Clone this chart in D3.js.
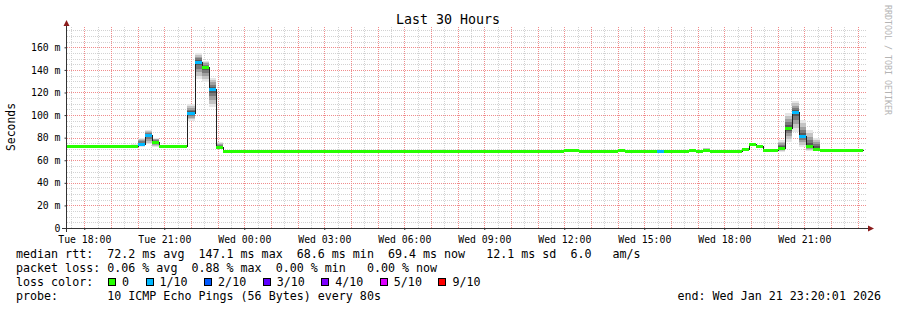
<!DOCTYPE html>
<html>
<head>
<meta charset="utf-8">
<script src="https://cdn.jsdelivr.net/npm/d3@7"></script>
<style>
  body { margin: 0; background: #fff; }
  svg { display: block; font-family: "DejaVu Sans Mono", monospace; }
  text { white-space: pre; }
</style>
</head>
<body>
<svg width="897" height="310"></svg>
<script>
// one entry per 16 min step (12 pings x 80s), it holds until the next start
const stepStart = ["Tue 17:20", "Tue 19:44", "Tue 20:00", "Tue 20:16", "Tue 20:32", "Tue 20:48",
  "Tue 21:52", "Tue 22:08", "Tue 22:24", "Tue 22:40", "Tue 22:56", "Tue 23:12",
  "Wed 07:12", "Wed 07:28", "Wed 12:00", "Wed 12:32", "Wed 14:00", "Wed 14:16",
  "Wed 15:28", "Wed 15:44", "Wed 16:40", "Wed 16:56", "Wed 17:12", "Wed 17:28",
  "Wed 18:40", "Wed 18:56", "Wed 19:12", "Wed 19:28", "Wed 20:00", "Wed 20:16",
  "Wed 20:32", "Wed 20:48", "Wed 21:04", "Wed 21:20", "Wed 21:36", "Wed 22:40"];
const medianMs = [72.3, 72.3, 74.5, 82.5, 76, 72.3,
  101.5, 147.1, 142.2, 123, 71.5, 68.6,
  68.6, 68.6, 69.2, 68.6, 69.1, 68.6,
  68.6, 68.6, 69.3, 68.6, 68.8, 68.6,
  70.2, 74.6, 72.8, 68.7, 71, 88.8,
  102.4, 81.3, 72.5, 70.4, 68.7, 69.3];
const lowMs = [72.3, 72, 72, 74, 72, 72.3,
  95, 132, 129, 107, 70.5, 68.6,
  68.3, 68.6, 68.5, 68.6, 68.5, 68.6,
  68.6, 68.6, 68.6, 68.6, 68.5, 68.6,
  69.5, 73, 72, 68.5, 67.5, 76.5,
  85, 72, 68.3, 68.3, 68.7, 69];
const highMs = [72.3, 74, 80, 87, 80, 72.3,
  110, 155, 148, 133, 76, 68.6,
  69.6, 68.6, 70, 68.6, 70, 68.6,
  68.8, 68.6, 70, 68.6, 71, 68.6,
  71, 75.5, 73.5, 69, 78, 101.5,
  112.5, 95.5, 86.6, 79.3, 68.7, 69.6];
const lossOf10 = [0, 0, 1, 1, 0, 0,
  1, 1, 0, 1, 0, 0,
  0, 0, 0, 0, 0, 0,
  1, 0, 0, 0, 0, 0,
  0, 0, 0, 0, 0, 0,
  1, 1, 0, 0, 0, 0];
const dataEnd = "Wed 23:12";

const yTicks = [0, 20, 40, 60, 80, 100, 120, 140, 160];
const lossLevels = [0, 1, 2, 3, 4, 5, 9];
const lossLabels = ["0", "1/10", "2/10", "3/10", "4/10", "5/10", "9/10"];
const lossColors = ["#26ff00", "#00b8ff", "#0059ff", "#5e00ff", "#7e00ff", "#dd00ff", "#ff0000"];
// smoke shades, outer ping pair first
const smokeGrays = [230, 196, 160, 122, 88];

const legendLines = [
  "median rtt:  72.2 ms avg  147.1 ms max  68.6 ms min  69.4 ms now   12.1 ms sd  6.0   am/s",
  "packet loss: 0.06 % avg  0.88 % max  0.00 % min   0.00 % now",
  "loss color:",
  "probe:       10 ICMP Echo Pings (56 Bytes) every 80s"
];

function parseT(s) {
  const [d, hm] = s.split(" ");
  const [h, m] = hm.split(":").map(Number);
  return new Date(2026, 0, d === "Tue" ? 20 : 21, h, m);
}

const svg = d3.select("svg");
const plotL = 66.5, plotR = 866.5, plotT = 27, plotB = 228;

const x = d3.scaleTime()
  .domain([new Date(2026, 0, 20, 17, 20), new Date(2026, 0, 21, 23, 20)])
  .range([plotL, plotR]);
const y = d3.scaleLinear().domain([0, 178]).range([plotB, plotT]);
const px = v => Math.round(v) + 0.5;

svg.append("rect").attr("width", 897).attr("height", 310).attr("fill", "#fff");

// grid, dotted: grey minor, red major
const grid = svg.append("g").attr("stroke-dasharray", "1,1").attr("stroke-width", 1);
const minorY = d3.range(5, 178, 5).filter(v => v % 20 !== 0);
grid.selectAll(".gy").data(minorY).enter().append("line")
  .attr("x1", plotL + 0.5).attr("x2", plotR)
  .attr("y1", d => px(y(d))).attr("y2", d => px(y(d)))
  .attr("stroke", "#d2d2d2");
const halfHours = d3.timeMinute.every(30).range(...x.domain()).filter(d => d.getMinutes() === 30);
grid.selectAll(".gx").data(halfHours).enter().append("line")
  .attr("x1", d => px(x(d))).attr("x2", d => px(x(d)))
  .attr("y1", plotT).attr("y2", plotB)
  .attr("stroke", "#d2d2d2");
grid.selectAll(".my").data(yTicks.slice(1)).enter().append("line")
  .attr("x1", plotL + 0.5).attr("x2", plotR)
  .attr("y1", d => px(y(d))).attr("y2", d => px(y(d)))
  .attr("stroke", "#f08c8c");
grid.selectAll(".mx").data(d3.timeHour.range(...x.domain())).enter().append("line")
  .attr("x1", d => px(x(d))).attr("x2", d => px(x(d)))
  .attr("y1", plotT).attr("y2", plotB)
  .attr("stroke", "#f08c8c");

// steps
const steps = stepStart.map((s, i) => ({
  t0: parseT(s),
  t1: parseT(stepStart[i + 1] || dataEnd),
  med: medianMs[i], lo: lowMs[i], hi: highMs[i], loss: lossOf10[i]
}));

// smoke, lightest band outside, darkest next to the median
const smoke = svg.append("g").attr("shape-rendering", "crispEdges");
steps.filter(s => s.hi > s.lo).forEach(s => {
  smokeGrays.forEach((g, k) => {
    const f = 1 - k / smokeGrays.length;
    const bLo = s.med - (s.med - s.lo) * f;
    const bHi = s.med + (s.hi - s.med) * f;
    smoke.append("rect")
      .attr("x", Math.round(x(s.t0))).attr("width", Math.round(x(s.t1)) - Math.round(x(s.t0)))
      .attr("y", Math.round(y(bHi))).attr("height", Math.max(1, Math.round(y(bLo)) - Math.round(y(bHi))))
      .attr("fill", d3.rgb(g, g, g));
  });
});

// median line
const linePts = steps.map(s => [s.t0, s.med]).concat([[steps[steps.length - 1].t1, steps[steps.length - 1].med]]);
svg.append("path")
  .attr("d", d3.line().x(d => px(x(d[0]))).y(d => px(y(d[1]))).curve(d3.curveStepAfter)(linePts))
  .attr("fill", "none").attr("stroke", "#202020").attr("stroke-width", 1)
  .attr("shape-rendering", "crispEdges");

// loss coloured bars over the median
svg.append("g").attr("shape-rendering", "crispEdges")
  .selectAll("rect").data(steps).enter().append("rect")
  .attr("x", d => Math.round(x(d.t0)))
  .attr("width", d => Math.round(x(d.t1)) - Math.round(x(d.t0)))
  .attr("y", d => Math.round(y(d.med)) - 1)
  .attr("height", 3)
  .attr("fill", d => lossColors[lossLevels.indexOf(d.loss)]);

// axes
const axisColor = "#333";
const arrowColor = "#8b1c1c";
const yAxis = svg.append("g").attr("transform", `translate(${plotL},0)`)
  .call(d3.axisLeft(y).tickValues(yTicks).tickSize(2).tickPadding(4)
    .tickFormat(d => d === 0 ? "0" : d + " m"));
yAxis.select(".domain").remove();
yAxis.selectAll("line").attr("stroke", axisColor);
yAxis.selectAll("text").attr("font-family", "DejaVu Sans Mono").attr("font-size", 9.8).attr("fill", "#000");

const xAxis = svg.append("g").attr("transform", `translate(0,${plotB})`)
  .call(d3.axisBottom(x).ticks(d3.timeHour.every(3)).tickSize(2).tickPadding(6)
    .tickFormat(d3.timeFormat("%a %H:%M")));
xAxis.select(".domain").remove();
xAxis.selectAll("line").attr("stroke", axisColor);
xAxis.selectAll("text").attr("font-family", "DejaVu Sans Mono").attr("font-size", 9.8).attr("fill", "#000");

svg.append("line").attr("x1", plotL).attr("x2", plotL).attr("y1", 232).attr("y2", 24)
  .attr("stroke", axisColor).attr("shape-rendering", "crispEdges");
svg.append("line").attr("x1", 62).attr("x2", 869).attr("y1", plotB + 0.5).attr("y2", plotB + 0.5)
  .attr("stroke", axisColor).attr("shape-rendering", "crispEdges");
svg.append("path").attr("d", `M${plotL - 3},26 L${plotL + 3},26 L${plotL},20 Z`).attr("fill", arrowColor);
svg.append("path").attr("d", `M868,${plotB - 2.5} L868,${plotB + 3.5} L874,${plotB + 0.5} Z`).attr("fill", arrowColor);

// titles
svg.append("text").attr("x", 448).attr("y", 24).attr("text-anchor", "middle")
  .attr("font-size", 13.3).text("Last 30 Hours");
svg.append("text").attr("transform", "translate(15,127) rotate(-90)").attr("text-anchor", "middle")
  .attr("font-size", 11.4).text("Seconds");
svg.append("text").attr("transform", "translate(885,5) rotate(90)")
  .attr("font-size", 8.3).attr("fill", "#b4b4b4").text("RRDTOOL / TOBI OETIKER");

// legend
const lineY = [257.5, 271.7, 285.8, 300];
svg.selectAll(".leg").data(legendLines).enter().append("text")
  .attr("x", 16).attr("y", (d, i) => lineY[i]).attr("font-size", 11.67).text(d => d);

const charW = 7.02;
let bx = 108;
lossLabels.forEach((lab, i) => {
  svg.append("rect").attr("x", bx + 0.5).attr("y", 278.5).attr("width", 7).attr("height", 7)
    .attr("fill", lossColors[i]).attr("stroke", "#000").attr("shape-rendering", "crispEdges");
  svg.append("text").attr("x", bx + 14).attr("y", lineY[2]).attr("font-size", 11.67).text(lab);
  bx += 14 + lab.length * charW + 16.5;
});

svg.append("text").attr("x", 881).attr("y", lineY[3]).attr("text-anchor", "end")
  .attr("font-size", 11.67).text("end: Wed Jan 21 23:20:01 2026");
</script>
</body>
</html>
